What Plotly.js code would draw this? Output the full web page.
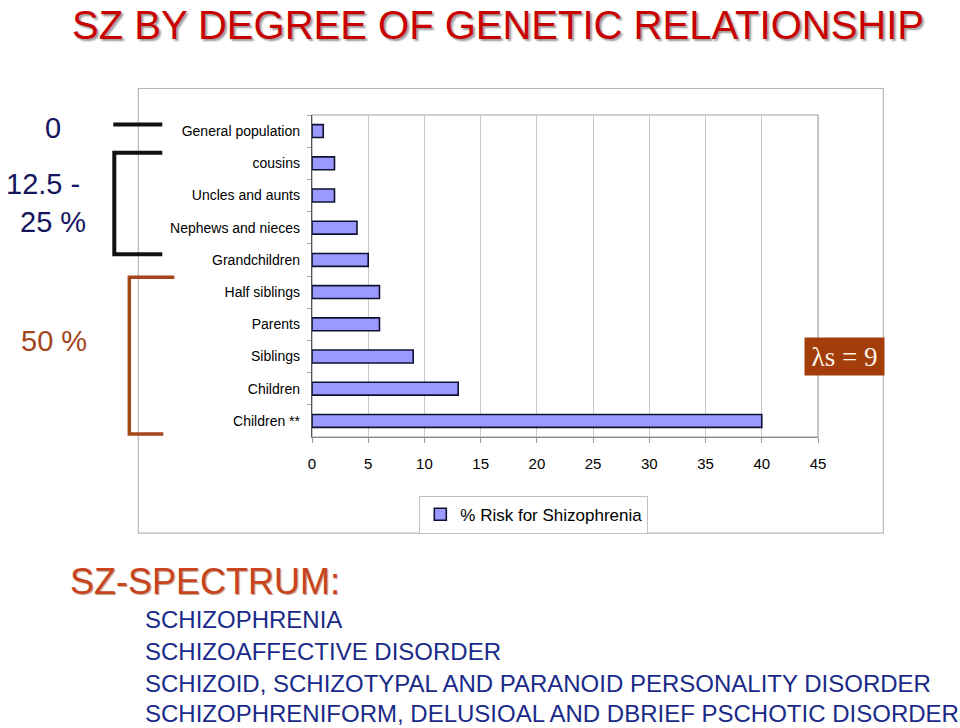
<!DOCTYPE html>
<html>
<head>
<meta charset="utf-8">
<script src="https://cdn.plot.ly/plotly-3.0.1.min.js"></script>
<style>html,body{margin:0;padding:0;background:#fff;}#chart{width:960px;height:728px;}</style>
</head>
<body>
<div id="chart"></div>
<script>
// ---- data ----
const categories = ["General population","cousins","Uncles and aunts","Nephews and nieces","Grandchildren","Half siblings","Parents","Siblings","Children","Children **"];
const riskValues = [1, 2, 2, 4, 5, 6, 6, 9, 13, 40];
const seriesName = "% Risk for Shizophrenia";
const xTicks = [0,5,10,15,20,25,30,35,40,45];
const titleText = "SZ BY DEGREE OF GENETIC RELATIONSHIP";
const groupLabels = ["0", "12.5 -", "25 %", "50 %"];
const lambdaText = "λs = 9";
const spectrumTitle = "SZ-SPECTRUM:";
const spectrumItems = ["SCHIZOPHRENIA","SCHIZOAFFECTIVE DISORDER","SCHIZOID, SCHIZOTYPAL AND PARANOID PERSONALITY DISORDER","SCHIZOPHRENIFORM, DELUSIOAL AND DBRIEF PSCHOTIC DISORDER"];

// ---- pixel helpers (plot area: x 311.7..817.7, y 115..437.3) ----
const X0 = 311.7, X1 = 817.7, Y0 = 115, Y1 = 437.3;
const px = x => (x - X0) / (X1 - X0);
const py = y => (Y1 - y) / (Y1 - Y0);

const navy = "#15155e", brown = "#a5451a";
const SANS = "Arial, Liberation Sans, sans-serif";

const trace = {
  type: "bar", orientation: "h",
  y: categories, x: riskValues, name: seriesName,
  marker: {color: "#9999ff", line: {color: "#101030", width: 1.6}},
  showlegend: true
};

const shapes = [
  // outer chart box
  {type:"rect", xref:"paper", yref:"paper", x0:px(138), x1:px(883), y0:py(88.5), y1:py(533.5), line:{color:"#b8b8b8", width:1.2}, layer:"below"},
  // plot area border
  {type:"rect", xref:"paper", yref:"paper", x0:0, x1:1, y0:0, y1:1, line:{color:"#a0a0a0", width:1.2}, layer:"below"},
  // general population line
  {type:"line", xref:"paper", yref:"paper", x0:px(113), x1:px(162), y0:py(124.5), y1:py(124.5), line:{color:"#111", width:4}},
  // black bracket
  {type:"path", xref:"paper", yref:"paper", path:`M ${px(162)} ${py(152.7)} L ${px(114)} ${py(152.7)} L ${px(114)} ${py(254.3)} L ${px(162)} ${py(254.3)}`, line:{color:"#111", width:4}},
  // brown bracket
  {type:"path", xref:"paper", yref:"paper", path:`M ${px(174)} ${py(277.5)} L ${px(129)} ${py(277.5)} L ${px(129)} ${py(434.3)} L ${px(163)} ${py(434.3)}`, line:{color:brown, width:3.5}}
];

const ann = (text, x, y, size, color, extra) => Object.assign({
  text, xref:"paper", yref:"paper", x:px(x), y:py(y), showarrow:false,
  xanchor:"center", yanchor:"middle",
  font:{family:SANS, size, color}
}, extra || {});

const annotations = [
  ann(titleText, 498, 24.5, 40, "#c80000", {borderpad:0, font:{family:SANS, size:40, color:"#c80000", shadow:"2px 2px 2px #9a9a9a"}}),
  ann(groupLabels[0], 52.5, 128.5, 29, navy),
  ann(groupLabels[1], 43, 184, 29, navy),
  ann(groupLabels[2], 53, 222, 29, navy),
  ann(groupLabels[3], 54, 341, 29, brown),
  ann(lambdaText, 844.5, 356.5, 27, "#fdf3e6", {font:{family:"Times New Roman, Liberation Serif, serif", size:27, color:"#fdf3e6"}, bgcolor:"#a33d0a", width:77, height:35, borderpad:1}),
  ann(spectrumTitle, 68, 582, 36, "#c8441c", {xanchor:"left", font:{family:SANS, size:36, color:"#c8441c", shadow:"1px 1px 1px #c0a090"}})
];
const lineY = [620, 652, 684, 714];
spectrumItems.forEach((t, i) => annotations.push(ann(t, 143, lineY[i], 24, "#1a2a88", {xanchor:"left"})));

const layout = {
  width: 960, height: 728,
  margin: {l: X0, r: 960 - X1, t: Y0, b: 728 - Y1, pad: 0},
  paper_bgcolor: "#fff", plot_bgcolor: "#fff",
  bargap: 0.6,
  font: {family: SANS, color: "#000"},
  xaxis: {
    range: [0, 45], tickvals: xTicks, ticktext: xTicks.map(String),
    showgrid: true, gridcolor: "#c8c8c8", gridwidth: 1,
    ticks: "outside", ticklen: 5, tickcolor: "#999", ticklabelstandoff: 8,
    tickfont: {size: 15, color: "#000"},
    showline: true, linecolor: "#888", linewidth: 1.2, zeroline: false, fixedrange: true
  },
  yaxis: {
    type: "category", categoryorder: "array", categoryarray: categories,
    autorange: "reversed",
    showgrid: false, zeroline: false,
    ticks: "outside", tickson: "boundaries", ticklen: 4, tickcolor: "#aaa",
    ticklabelstandoff: 8,
    tickfont: {size: 14, color: "#000"},
    showline: true, linecolor: "#555", linewidth: 1.2, fixedrange: true
  },
  showlegend: true,
  legend: {
    orientation: "h", xref: "paper", yref: "paper",
    x: px(419), y: py(496), xanchor: "left", yanchor: "top",
    bgcolor: "#fff", bordercolor: "#c0c0c0", borderwidth: 1,
    font: {size: 17, color: "#000"}, itemwidth: 30, tracegroupgap: 0
  },
  shapes, annotations
};

Plotly.newPlot("chart", [trace], layout, {staticPlot: true, displayModeBar: false});
</script>
</body>
</html>
